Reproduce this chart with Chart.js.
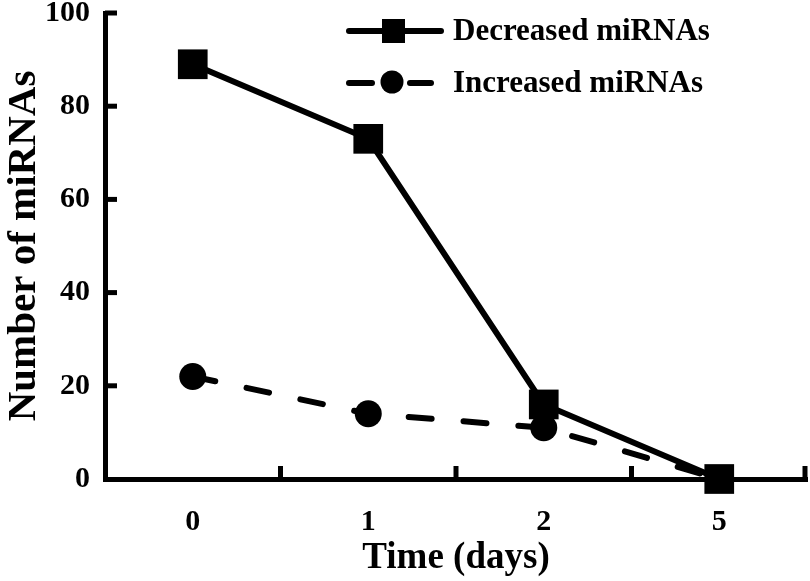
<!DOCTYPE html>
<html><head><meta charset="utf-8">
<script src="https://cdn.jsdelivr.net/npm/chart.js@4"></script>
<style>html,body{margin:0;padding:0;background:#fff}#wrap{width:810px;height:581px}</style>
</head><body><div id="wrap"><canvas id="c" width="810" height="581"></canvas></div>
<script>
const categories = ['0', '1', '2', '5'];
const decreased = [89, 73, 16, 0];
const increased = [22, 14, 11, 0];
const yTicks = [0, 20, 40, 60, 80, 100];
const seriesNames = ['Decreased miRNAs', 'Increased miRNAs'];
const FONT = '"Liberation Serif", "Times New Roman", serif';

const decorPlugin = {
  id: 'decor',
  afterDraw(chart) {
    const ctx = chart.ctx, x = chart.scales.x, y = chart.scales.y, a = chart.chartArea;
    ctx.save();
    ctx.strokeStyle = '#000'; ctx.lineWidth = 5; ctx.lineCap = 'butt';
    yTicks.forEach(v => { if (v === 0) return; const py = y.getPixelForValue(v);
      ctx.beginPath(); ctx.moveTo(a.left, py); ctx.lineTo(a.left + 12, py); ctx.stroke(); });
    const step = x.getPixelForValue(1) - x.getPixelForValue(0);
    for (let i = 0; i < categories.length; i++) {
      const px = x.getPixelForValue(i) + step / 2 - (i === categories.length - 1 ? 2 : 0);
      ctx.beginPath(); ctx.moveTo(px, a.bottom); ctx.lineTo(px, a.bottom - 13); ctx.stroke();
    }
    const rows = [{ y: 31, ds: chart.data.datasets[0] }, { y: 83, ds: chart.data.datasets[1] }];
    rows.forEach((r, i) => {
      ctx.lineWidth = 6; ctx.lineCap = 'round'; ctx.strokeStyle = '#000'; ctx.fillStyle = '#000';
      if (i === 0) {
        ctx.beginPath(); ctx.moveTo(349, r.y); ctx.lineTo(441, r.y); ctx.stroke();
        ctx.fillRect(382, r.y - 12, 23, 24);
      } else {
        ctx.beginPath(); ctx.moveTo(349, r.y); ctx.lineTo(372, r.y); ctx.stroke();
        ctx.beginPath(); ctx.moveTo(410, r.y); ctx.lineTo(431, r.y); ctx.stroke();
        ctx.beginPath(); ctx.arc(392, r.y - 1, 11.5, 0, Math.PI * 2); ctx.fill();
      }
      ctx.font = 'bold 31px ' + FONT; ctx.textBaseline = 'middle'; ctx.textAlign = 'left';
      ctx.fillText(r.ds.label, 453, r.y + 1);
    });
    ctx.restore();
  }
};

new Chart(document.getElementById('c'), {
  type: 'line',
  data: {
    labels: categories,
    datasets: [
      { label: seriesNames[0], data: decreased, borderColor: '#000', backgroundColor: '#000',
        borderWidth: 6, pointStyle: 'rect', pointRadius: 21, pointBorderWidth: 0, pointBackgroundColor: '#000',
        tension: 0, clip: false },
      { label: seriesNames[1], data: increased, borderColor: '#000', backgroundColor: '#000',
        borderWidth: 6, borderDash: [23, 32], borderCapStyle: 'round', pointStyle: 'circle', pointRadius: 13.5,
        pointBorderWidth: 0, pointBackgroundColor: '#000', tension: 0, clip: false }
    ]
  },
  options: {
    responsive: false, animation: false, devicePixelRatio: 1,
    layout: { autoPadding: false, padding: { top: 13, right: 3, left: 0, bottom: 0 } },
    plugins: { legend: { display: false }, tooltip: { enabled: false } },
    scales: {
      x: {
        offset: true,
        grid: { display: false, drawTicks: false, offset: true },
        border: { display: true, color: '#000', width: 5 },
        ticks: { color: '#000', font: { family: FONT, size: 30, weight: 'bold' }, padding: 25 },
        title: { display: true, text: 'Time (days)', color: '#000', font: { family: FONT, size: 37, weight: 'bold' }, padding: { top: 2, bottom: 0 } },
        afterFit(s) { s.height = 102; s.paddingLeft = 0; s.paddingRight = 0; }
      },
      y: {
        min: 0, max: 100,
        afterBuildTicks(s) { s.ticks = yTicks.map(v => ({ value: v })); },
        grid: { display: false, drawTicks: false },
        border: { display: true, color: '#000', width: 5 },
        ticks: { color: '#000', font: { family: FONT, size: 30, weight: 'bold' }, padding: 15 },
        title: { display: true, text: 'Number of miRNAs', color: '#000', font: { family: FONT, size: 41, weight: 'bold' }, padding: { top: 0, bottom: 2 } },
        afterFit(s) { s.width = 105; s.paddingTop = 0; s.paddingBottom = 0; }
      }
    }
  },
  plugins: [decorPlugin]
});
</script></body></html>
